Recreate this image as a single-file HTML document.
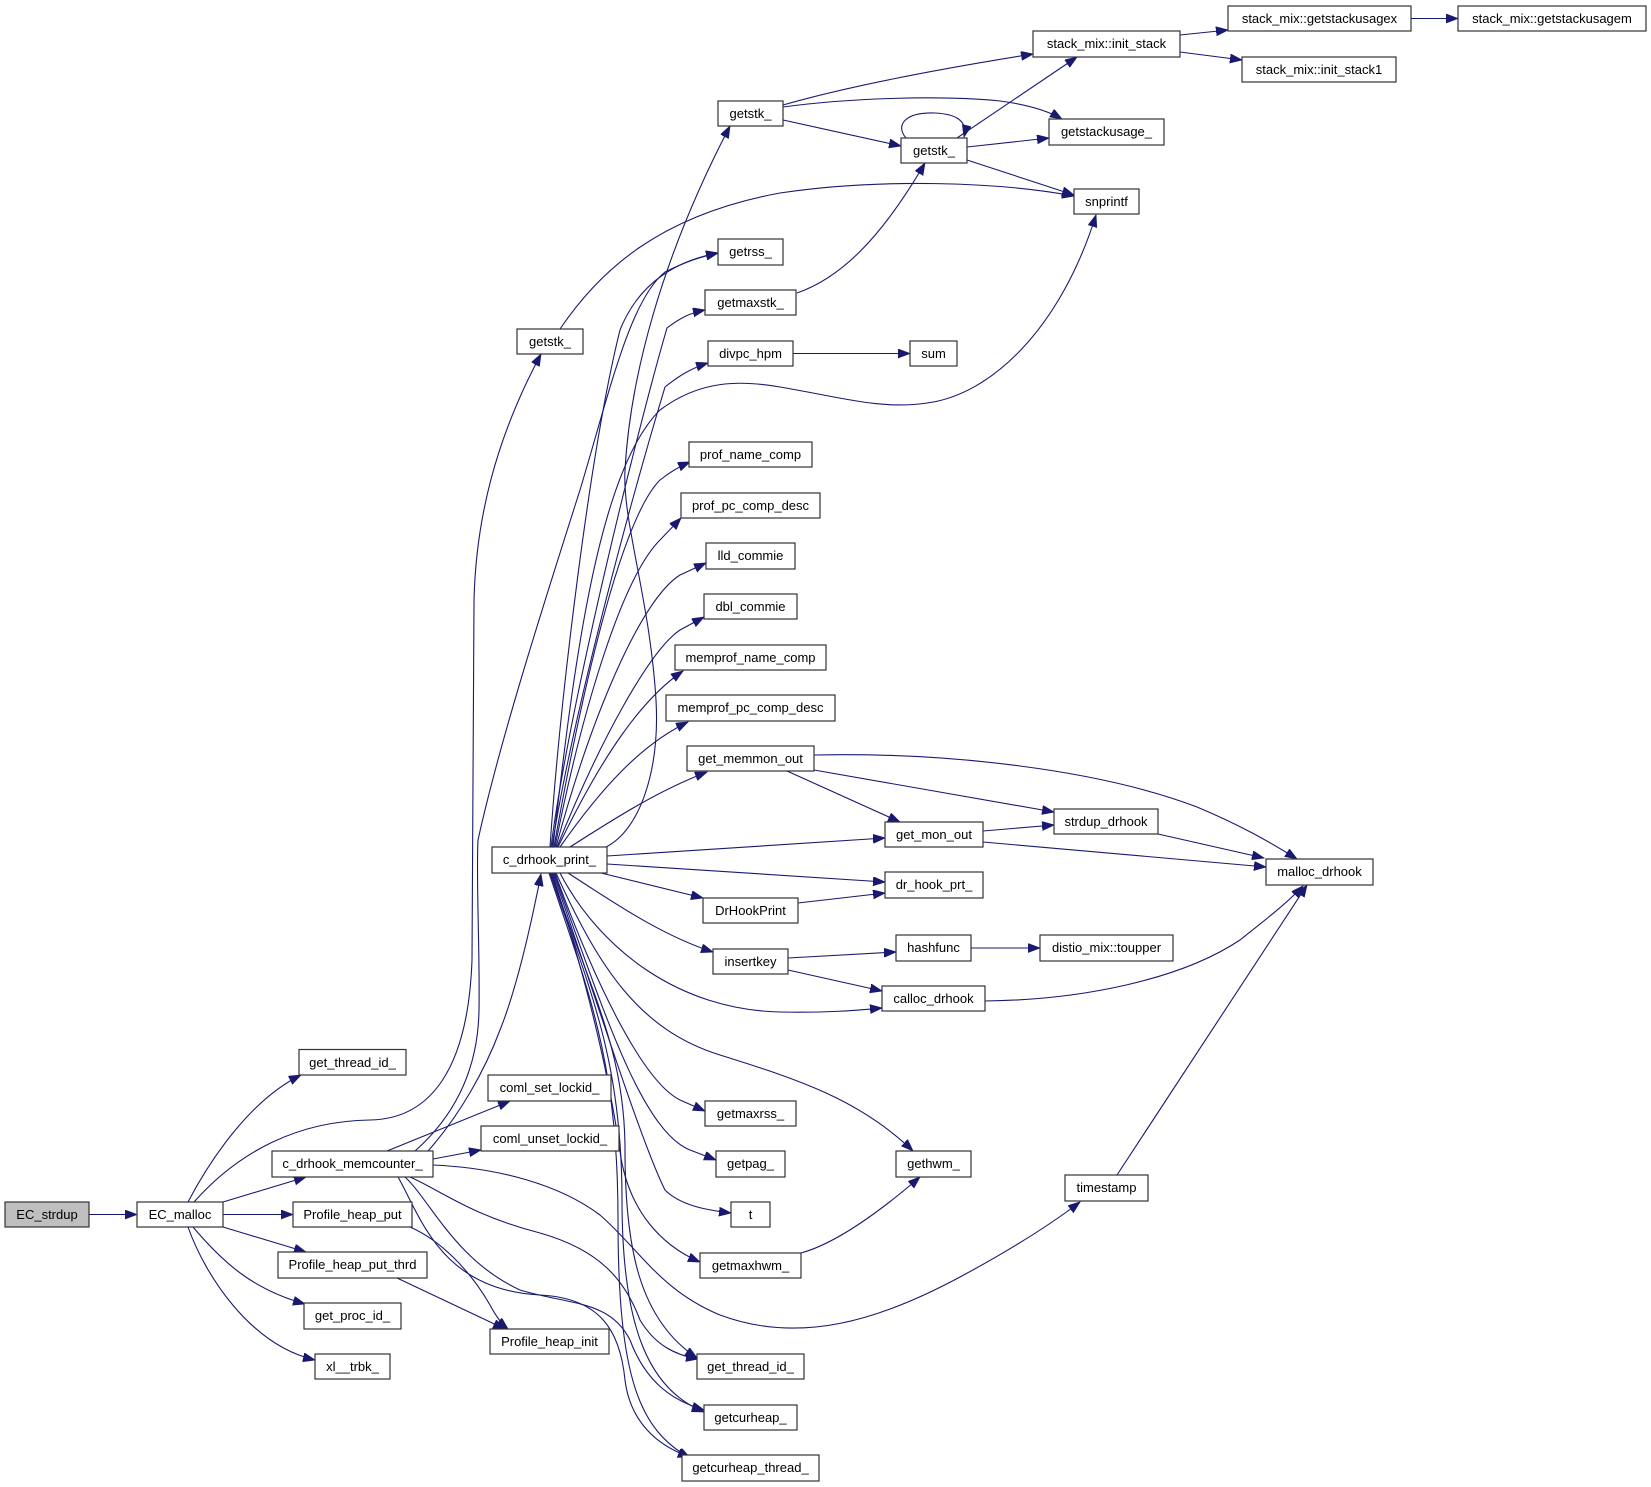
<!DOCTYPE html>
<html><head><meta charset="utf-8"><style>
html,body{margin:0;padding:0;background:#fff;}
svg{display:block;}
text{font-family:"Liberation Sans",Arial,sans-serif;font-size:13px;fill:#000;text-anchor:middle;}
.b{fill:#fff;stroke:#333;stroke-width:1.2;}
.e{fill:none;stroke:#191970;stroke-width:1.1;marker-end:url(#a);}
</style></head><body>
<svg width="1651" height="1487" viewBox="0 0 1651 1487" xmlns="http://www.w3.org/2000/svg">
<defs><marker id="a" markerUnits="userSpaceOnUse" markerWidth="13" markerHeight="10" refX="12" refY="4.5" orient="auto"><path d="M0,0 L12,4.5 L0,9 z" fill="#191970" stroke="#191970" stroke-width="0.8"/></marker></defs>
<rect width="1651" height="1487" fill="#fff"/>
<!-- edges -->
<path class="e" d="M89,1214.5 L137,1214.5"/>
<path class="e" d="M188,1202 C210,1160 250,1100 301,1075"/>
<path class="e" d="M194,1202 C240,1150 300,1121 370,1120 C430,1119 468,1070 472,960 L474,600 C476,520 495,440 541,354"/>
<path class="e" d="M223,1202 L306,1177"/>
<path class="e" d="M223,1214.5 L293,1214.5"/>
<path class="e" d="M223,1227 L306,1252"/>
<path class="e" d="M193,1227 C225,1265 255,1290 305,1304"/>
<path class="e" d="M188,1227 C205,1275 250,1345 315,1360"/>
<path class="e" d="M387,1151 L510,1101"/>
<path class="e" d="M433,1159 L481,1150"/>
<path class="e" d="M428,1151 C460,1115 485,1070 500,1030 C518,985 532,920 541,874"/>
<path class="e" d="M415,1151 C450,1120 478,1075 479,1010 C480,950 476,880 478,840 C500,740 545,600 580,490 C610,390 630,300 665,272 C685,262 700,257 718,253"/>
<path class="e" d="M433,1165 C500,1168 560,1185 600,1215 C640,1250 660,1290 720,1315 C800,1345 880,1320 960,1277 C1010,1250 1050,1225 1080,1202"/>
<path class="e" d="M410,1177 C440,1190 470,1215 540,1233 C600,1250 625,1280 640,1320 C655,1345 675,1355 698,1359"/>
<path class="e" d="M405,1177 C430,1200 455,1260 520,1290 C570,1305 610,1300 630,1340 C645,1380 670,1400 704,1410"/>
<path class="e" d="M398,1177 C420,1215 440,1290 540,1295 C600,1298 620,1330 625,1380 C630,1420 655,1445 690,1457"/>
<path class="e" d="M410,1227 C440,1240 470,1270 490,1305 C497,1318 502,1324 508,1329"/>
<path class="e" d="M397,1278 L505,1329"/>
<!-- c_drhook_print_ top -->
<path class="e" d="M606,847 C640,830 660,770 656,700 C650,600 622,520 625,470 C630,380 660,260 730,126"/>
<path class="e" d="M550,847 C560,700 590,450 620,330 C640,280 680,260 718,253"/>
<path class="e" d="M551,847 C570,700 640,420 667,328 C680,318 690,313 705,310"/>
<path class="e" d="M552,847 C575,700 640,470 665,387 C680,375 692,368 708,363"/>
<path class="e" d="M553,847 C575,650 600,470 660,410 C700,380 740,380 780,387 C840,397 880,410 927,403 C990,395 1060,330 1096,215"/>
<path class="e" d="M554,847 C580,700 620,520 660,480 C670,472 678,467 690,462"/>
<path class="e" d="M555,847 C580,720 620,580 660,540 L681,518"/>
<path class="e" d="M556,847 C590,720 640,600 680,575 L706,563"/>
<path class="e" d="M557,847 C600,740 650,650 680,630 L704,617"/>
<path class="e" d="M558,847 C600,760 640,700 683,671"/>
<path class="e" d="M560,847 C600,790 640,745 688,722"/>
<path class="e" d="M570,847 C620,815 660,790 707,772"/>
<!-- c_drhook_print_ right/bottom -->
<path class="e" d="M607,856 L885,838"/>
<path class="e" d="M607,864 L885,882"/>
<path class="e" d="M601,873 L703,898"/>
<path class="e" d="M568,873 C610,900 660,935 713,952"/>
<path class="e" d="M560,873 C600,950 680,1010 780,1012 C830,1013 860,1010 882,1008"/>
<path class="e" d="M556,873 C600,970 640,1030 720,1055 C800,1080 860,1100 913,1151"/>
<path class="e" d="M555,873 C590,970 640,1080 680,1100 L705,1111"/>
<path class="e" d="M554,873 C600,1000 640,1130 690,1150 L716,1160"/>
<path class="e" d="M553,873 C590,980 640,1140 665,1190 C680,1205 705,1210 731,1213"/>
<path class="e" d="M552,873 C590,990 610,1080 621,1158 C630,1210 660,1245 700,1262"/>
<path class="e" d="M551,873 C590,990 625,1050 625,1150 C625,1250 640,1320 697,1358"/>
<path class="e" d="M550,873 C590,990 622,1060 622,1200 C622,1330 650,1390 704,1412"/>
<path class="e" d="M549,873 C588,990 618,1060 618,1220 C618,1380 640,1430 690,1458"/>
<!-- getstk_ mid -->
<path class="e" d="M560,329 C600,270 660,215 780,193 C880,178 1000,182 1074,196"/>
<!-- getstk_ top -->
<path class="e" d="M783,105 Q870,80 1033,54"/>
<path class="e" d="M783,107 C850,98 940,95 1000,101 C1030,105 1050,112 1062,119"/>
<path class="e" d="M783,120 L901,146"/>
<!-- getstk_ second -->
<path class="e" d="M906,138 C895,125 905,112 935,113 C955,114 968,120 964,137"/>
<path class="e" d="M957,138 L1077,57"/>
<path class="e" d="M967,147 L1049,138"/>
<path class="e" d="M967,160 L1074,195"/>
<path class="e" d="M797,293 C840,278 880,240 925,163"/>
<path class="e" d="M1180,35 L1228,30"/>
<path class="e" d="M1180,52 L1242,60"/>
<path class="e" d="M1411,18.5 L1458,18.5"/>
<path class="e" d="M793,353.5 L910,353.5"/>
<!-- get_memmon_out etc -->
<path class="e" d="M787,771 L900,822"/>
<path class="e" d="M814,770 L1054,812"/>
<path class="e" d="M814,755 C950,752 1100,770 1197,807 C1240,825 1270,842 1297,859"/>
<path class="e" d="M983,831 L1054,825"/>
<path class="e" d="M983,842 L1266,867"/>
<path class="e" d="M1158,834 L1264,858"/>
<path class="e" d="M798,903 L885,893"/>
<path class="e" d="M788,958 L896,952"/>
<path class="e" d="M788,970 L882,991"/>
<path class="e" d="M971,948 L1040,948"/>
<path class="e" d="M985,1001 C1080,1000 1180,980 1240,940 C1265,920 1285,905 1303,886"/>
<path class="e" d="M1117,1175 L1307,885"/>
<path class="e" d="M801,1253 C830,1245 870,1220 920,1177"/>
<!-- nodes -->
<g>
<rect class="b" x="5" y="1202" width="84" height="25" style="fill:#bfbfbf"/><text x="47" y="1219">EC_strdup</text>
<rect class="b" x="137" y="1202" width="86" height="25"/><text x="180" y="1219">EC_malloc</text>
<rect class="b" x="299" y="1049.5" width="107" height="25.5"/><text x="352.5" y="1067">get_thread_id_</text>
<rect class="b" x="272" y="1151" width="161" height="26"/><text x="352.5" y="1168">c_drhook_memcounter_</text>
<rect class="b" x="293" y="1202" width="119" height="25"/><text x="352.5" y="1219">Profile_heap_put</text>
<rect class="b" x="278" y="1252" width="149" height="26"/><text x="352.5" y="1269">Profile_heap_put_thrd</text>
<rect class="b" x="304" y="1303" width="97" height="26"/><text x="352.5" y="1320">get_proc_id_</text>
<rect class="b" x="315" y="1354" width="75" height="25"/><text x="352.5" y="1371">xl__trbk_</text>
<rect class="b" x="517" y="329" width="66" height="25"/><text x="550" y="346">getstk_</text>
<rect class="b" x="492" y="847" width="115" height="26"/><text x="549.5" y="864">c_drhook_print_</text>
<rect class="b" x="488" y="1075" width="123" height="26"/><text x="549.5" y="1092">coml_set_lockid_</text>
<rect class="b" x="481" y="1126" width="138" height="25"/><text x="550" y="1143">coml_unset_lockid_</text>
<rect class="b" x="490" y="1329" width="119" height="25"/><text x="549.5" y="1346">Profile_heap_init</text>
<rect class="b" x="718" y="101" width="65" height="25"/><text x="750.5" y="118">getstk_</text>
<rect class="b" x="718" y="239" width="65" height="26"/><text x="750.5" y="256">getrss_</text>
<rect class="b" x="705" y="290" width="91" height="25"/><text x="750.5" y="307">getmaxstk_</text>
<rect class="b" x="708" y="341" width="85" height="25"/><text x="750.5" y="358">divpc_hpm</text>
<rect class="b" x="689" y="442" width="123" height="25"/><text x="750.5" y="459">prof_name_comp</text>
<rect class="b" x="681" y="493" width="139" height="25"/><text x="750.5" y="510">prof_pc_comp_desc</text>
<rect class="b" x="706" y="543" width="89" height="26"/><text x="750.5" y="560">lld_commie</text>
<rect class="b" x="704" y="594" width="93" height="25"/><text x="750.5" y="611">dbl_commie</text>
<rect class="b" x="675" y="645" width="151" height="25"/><text x="750.5" y="662">memprof_name_comp</text>
<rect class="b" x="666" y="695" width="169" height="26"/><text x="750.5" y="712">memprof_pc_comp_desc</text>
<rect class="b" x="687" y="746" width="127" height="25"/><text x="750.5" y="763">get_memmon_out</text>
<rect class="b" x="703" y="898" width="95" height="25"/><text x="750.5" y="915">DrHookPrint</text>
<rect class="b" x="713" y="949" width="75" height="25"/><text x="750.5" y="966">insertkey</text>
<rect class="b" x="705" y="1101" width="91" height="25"/><text x="750.5" y="1118">getmaxrss_</text>
<rect class="b" x="716" y="1151" width="69" height="26"/><text x="750.5" y="1168">getpag_</text>
<rect class="b" x="731" y="1202" width="39" height="25"/><text x="750.5" y="1219">t</text>
<rect class="b" x="700" y="1253" width="101" height="25"/><text x="750.5" y="1270">getmaxhwm_</text>
<rect class="b" x="697" y="1354" width="107" height="25"/><text x="750.5" y="1371">get_thread_id_</text>
<rect class="b" x="704" y="1405" width="93" height="25"/><text x="750.5" y="1422">getcurheap_</text>
<rect class="b" x="682" y="1455" width="137" height="26"/><text x="750.5" y="1472">getcurheap_thread_</text>
<rect class="b" x="901" y="138" width="66" height="25"/><text x="934" y="155">getstk_</text>
<rect class="b" x="910" y="341" width="47" height="25"/><text x="933.5" y="358">sum</text>
<rect class="b" x="885" y="822" width="98" height="25"/><text x="934" y="839">get_mon_out</text>
<rect class="b" x="885" y="872" width="98" height="26"/><text x="934" y="889">dr_hook_prt_</text>
<rect class="b" x="896" y="935" width="75" height="26"/><text x="933.5" y="952">hashfunc</text>
<rect class="b" x="882" y="986" width="103" height="25"/><text x="933.5" y="1003">calloc_drhook</text>
<rect class="b" x="896" y="1151" width="75" height="26"/><text x="933.5" y="1168">gethwm_</text>
<rect class="b" x="1033" y="31" width="147" height="26"/><text x="1106.5" y="48">stack_mix::init_stack</text>
<rect class="b" x="1049" y="119" width="115" height="26"/><text x="1106.5" y="136">getstackusage_</text>
<rect class="b" x="1074" y="189" width="65" height="25"/><text x="1106.5" y="206">snprintf</text>
<rect class="b" x="1054" y="809" width="104" height="25"/><text x="1106" y="826">strdup_drhook</text>
<rect class="b" x="1040" y="935" width="133" height="26"/><text x="1106.5" y="952">distio_mix::toupper</text>
<rect class="b" x="1065" y="1175" width="83" height="26"/><text x="1106.5" y="1192">timestamp</text>
<rect class="b" x="1228" y="6" width="183" height="25"/><text x="1319.5" y="23">stack_mix::getstackusagex</text>
<rect class="b" x="1242" y="57" width="154" height="25"/><text x="1319" y="74">stack_mix::init_stack1</text>
<rect class="b" x="1266" y="859" width="107" height="26"/><text x="1319.5" y="876">malloc_drhook</text>
<rect class="b" x="1458" y="6" width="188" height="25"/><text x="1552" y="23">stack_mix::getstackusagem</text>
</g>
</svg>
</body></html>
